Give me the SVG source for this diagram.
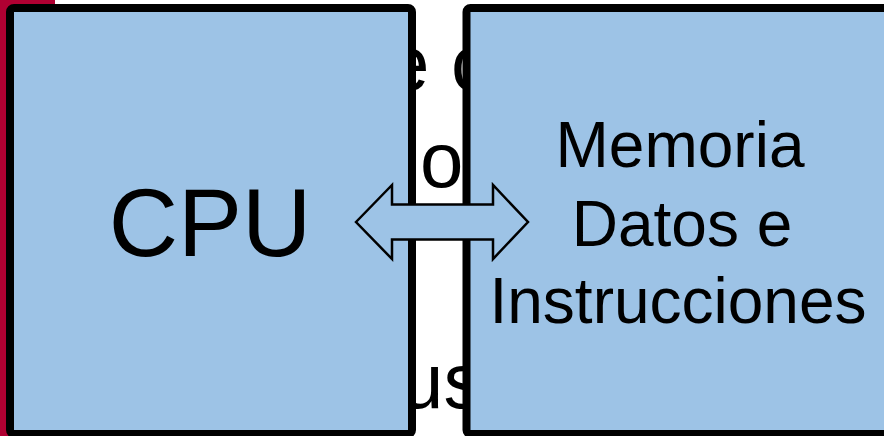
<svg xmlns="http://www.w3.org/2000/svg" width="884" height="436" viewBox="0 0 884 436">
  <style>
    .box { fill: #9DC3E6; stroke: #000; stroke-width: 8; }
    .label { font-family: "Liberation Sans", Arial, sans-serif; fill: #000; }
    .big { font-size: 96px; }
    .mid { font-size: 64px; }
    .back { font-family: "Liberation Sans", Arial, sans-serif; font-size: 78px; fill: #000; }
    .link { fill: #9DC3E6; stroke: #000; stroke-width: 2.5; stroke-linejoin: miter; }
  </style>

  <!-- page background -->
  <rect x="0" y="0" width="884" height="436" fill="#FFFFFF"/>
  <rect x="0" y="0" width="55" height="436" fill="#B00032"/>

  <!-- slide text lying behind the blocks -->
  <g id="background-text">
    <text class="back" x="386" y="90">e c</text>
    <text class="back" x="420" y="187">o</text>
    <text class="back" x="400" y="408">us</text>
  </g>

  <!-- processor block -->
  <g id="cpu">
    <rect class="box" x="10" y="8" width="402" height="426" rx="4"/>
    <text class="label big" x="210" y="256" text-anchor="middle">CPU</text>
  </g>

  <!-- memory block -->
  <g id="memoria">
    <rect class="box" x="466.5" y="8" width="430" height="426" rx="4"/>
    <text class="label mid" x="680" y="167" text-anchor="middle">Memoria</text>
    <text class="label mid" x="682" y="246" text-anchor="middle">Datos e</text>
    <text class="label mid" x="678" y="323" text-anchor="middle">Instrucciones</text>
  </g>

  <!-- bidirectional bus -->
  <g id="connectors">
    <polygon class="link" points="356,222 392,185 392,204.5 493,204.5 493,185 528,222 493,259 493,239.5 392,239.5 392,259"/>
  </g>
</svg>
